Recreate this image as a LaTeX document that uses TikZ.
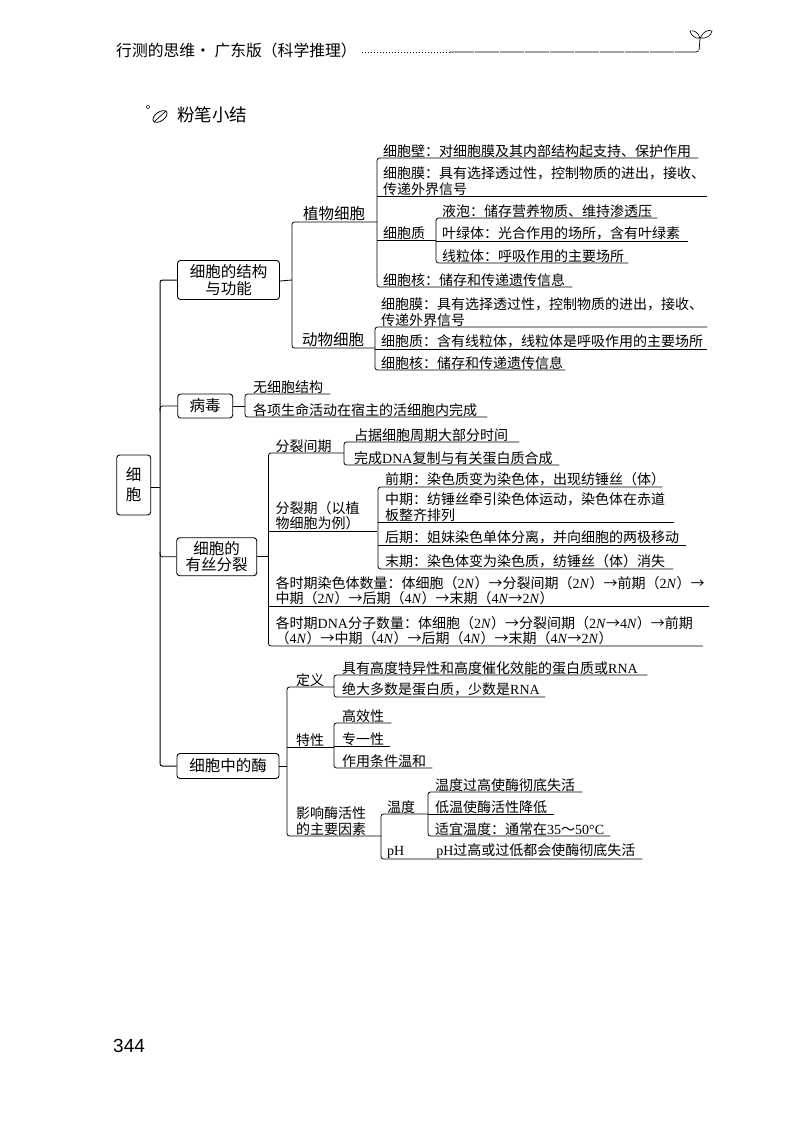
\documentclass[tikz,border=0pt]{standalone}
\usepackage{fontspec}
\setmainfont{Noto Sans CJK SC}
\newfontfamily\latfont{Liberation Serif}
\newfontfamily\pagefont{Liberation Sans}
\usetikzlibrary{positioning}
\newcommand{\nN}[1]{{\latfont #1\textit{N}}}
\newcommand{\lat}[1]{{\latfont #1}}
\tikzstyle{every picture}=[x=1pt,y=-1pt]
\tikzstyle{leaf}=[anchor=south west,inner xsep=6pt,inner ysep=0.5pt,align=left,font=\fontsize{14}{15.5}\selectfont]
\tikzstyle{topic}=[draw=black,line width=0.9pt,rounded corners=3pt,align=center,inner sep=0pt,font=\fontsize{15.5}{16.5}\selectfont]
\tikzstyle{branch}=[leaf,inner xsep=0pt,inner ysep=1.5pt,font=\fontsize{15.5}{15.5}\selectfont]
\tikzstyle{conn}=[line width=0.8pt,rounded corners=2.5pt]
\tikzstyle{under}=[line width=0.8pt]

\begin{document}
\begin{tikzpicture}
  \useasboundingbox (0,0) rectangle (800,1129);

  % page head
  \node [anchor=west,inner sep=0pt,font=\fontsize{15.8}{16}\selectfont] (headtext) at (116,50) {行测的思维· 广东版（科学推理）};
  \node [anchor=west,inner sep=0pt,font=\fontsize{17.5}{18}\selectfont] (chalk) at (177,115) {粉笔小结};
  \node [anchor=west,inner sep=0pt,font=\pagefont\fontsize{19}{20}\selectfont] (pageno) at (113,1046) {344};
  \coordinate (headdash) at (450,52);
  \coordinate (stalk) at (700,38);
  \draw [line width=0.7pt,dash pattern=on 1.5pt off 1.5pt] (headtext.east) ++(5,2) -- (headdash);
  \draw [line width=0.7pt,dash pattern=on 24pt off 1pt,rounded corners=3pt] (headdash) -- (699,52) -- (stalk);
  \draw [line width=0.6pt] (stalk) .. controls (698,32) and (694,30) .. (690,31) .. controls (691,36) and (696,39) .. (stalk);
  \draw [line width=0.6pt] (stalk) .. controls (703,32) and (708,29) .. (712,31) .. controls (711,36) and (706,39) .. (stalk);
  \draw [line width=0.8pt,rotate around={35:(160,116.5)}] (160,116.5) ellipse (8 and 4.5);
  \draw [line width=0.7pt] (154,122) -- (166,111);
  \node [inner sep=0pt,font=\fontsize{13}{13}\selectfont] (chalkdot) at (148,111) {°};

  % root and main topics
  \node [topic,minimum width=34pt,minimum height=60pt,font=\fontsize{15.5}{20}\selectfont] (cell) at (133.7,485) {细\\胞};
  \node [topic,minimum width=102pt,minimum height=39pt] (structure) at (228.5,280) {细胞的结构\\与功能};
  \node [topic,minimum width=55pt,minimum height=24pt] (virus) at (205.2,406) {病毒};
  \node [topic,minimum width=80pt,minimum height=38pt] (mitosis) at (216.7,556.7) {细胞的\\有丝分裂};
  \node [topic,minimum width=102pt,minimum height=25pt] (enzyme) at (228,766) {细胞中的酶};
  \coordinate (trunk) at (160,487);
  \draw [conn,line width=1pt] (structure.west) -| (trunk) |- (enzyme.west);
  \draw [under,line width=1pt] (cell.east |- trunk) -- (trunk);
  \draw [conn] (virus.west) -| ([yshift=-5pt]virus.west -| trunk);
  \draw [conn] (mitosis.west) -| ([yshift=5pt]mitosis.west -| trunk);

  % cell structure
  \node [branch,text width=85pt] (plant) at (292,222) {\hspace{11pt}植物细胞};
  \node [branch,text width=83pt] (animal) at (292,348) {\hspace{10pt}动物细胞};
  \node [leaf,text width=309pt] (pwall) at (377,158) {细胞壁：对细胞膜及其内部结构起支持、保护作用};
  \node [leaf,text width=318pt] (pmemb) at (377,196) {细胞膜：具有选择透过性，控制物质的进出，接收、\\传递外界信号};
  \node [leaf,text width=47pt] (pplasm) at (377,240) {细胞质};
  \node [leaf,text width=183pt] (pnucl) at (377,287) {细胞核：储存和传递遗传信息};
  \node [leaf,text width=209pt] (vacuole) at (436,218) {液泡：储存营养物质、维持渗透压};
  \node [leaf,text width=240pt] (chloro) at (436,241) {叶绿体：光合作用的场所，含有叶绿素};
  \node [leaf,text width=180pt] (mito) at (436,263) {线粒体：呼吸作用的主要场所};
  \node [leaf,text width=320pt] (amemb) at (375,327) {细胞膜：具有选择透过性，控制物质的进出，接收、\\传递外界信号};
  \node [leaf,text width=320pt] (aplasm) at (375,349) {细胞质：含有线粒体，线粒体是呼吸作用的主要场所};
  \node [leaf,text width=178pt] (anucl) at (375,370) {细胞核：储存和传递遗传信息};
  \draw [conn] (plant.south east) -- (plant.south west) -- (animal.south west) -- (animal.south east);
  \draw [under] (structure.east) ++(0,1) -- (structure.east -| plant.south west) ++(0,1);
  \draw [conn] (pwall.south east) -- (pwall.south west) -- (pnucl.south west) -- (pnucl.south east);
  \draw [conn] (vacuole.south east) -- (vacuole.south west) -- (mito.south west) -- (mito.south east);
  \draw [conn] (amemb.south east) -- (amemb.south west) -- (anucl.south west) -- (anucl.south east);
  \foreach \leafname in {pmemb,pplasm,chloro,aplasm}
    \draw [under] (\leafname.south west) -- (\leafname.south east);

  % virus
  \node [leaf,inner xsep=8pt,text width=69pt] (nocell) at (245,394) {无细胞结构};
  \node [leaf,inner xsep=8pt,text width=226pt] (host) at (245,417) {各项生命活动在宿主的活细胞内完成};
  \draw [conn] (nocell.south east) -- (nocell.south west) -- (host.south west) -- (host.south east);
  \draw [under] (virus.east) -- (virus.east -| host.south west);

  % mitosis
  \node [leaf,inner xsep=7pt,text width=61pt] (inter) at (268.5,453) {分裂间期};
  \node [leaf,inner xsep=7pt,text width=94pt] (phase) at (268.5,531) {分裂期（以植\\物细胞为例）};
  \node [leaf,inner xsep=7pt,text width=426pt] (chromcount) at (268.5,606) {各时期染色体数量：体细胞（\nN{2}）→分裂间期（\nN{2}）→前期（\nN{2}）→\\中期（\nN{2}）→后期（\nN{4}）→末期（\nN{4}→\nN{2}）};
  \node [leaf,inner xsep=7pt,text width=420pt] (dnacount) at (268.5,646) {各时期\lat{DNA}分子数量：体细胞（\nN{2}）→分裂间期（\nN{2}→\nN{4}）→前期\\（\nN{4}）→中期（\nN{4}）→后期（\nN{4}）→末期（\nN{4}→\nN{2}）};
  \node [leaf,inner xsep=10pt,text width=155pt] (occupy) at (344,442) {占据细胞周期大部分时间};
  \node [leaf,inner xsep=10pt,text width=195pt] (dnasyn) at (344,465) {完成\lat{DNA}复制与有关蛋白质合成};
  \node [leaf,inner xsep=7pt,text width=270pt] (pro) at (378,487) {前期：染色质变为染色体，出现纺锤丝（体）};
  \node [leaf,inner xsep=7pt,text width=282pt] (meta) at (378,522) {中期：纺锤丝牵引染色体运动，染色体在赤道\\板整齐排列};
  \node [leaf,inner xsep=7pt,text width=294pt] (ana) at (378,545) {后期：姐妹染色单体分离，并向细胞的两极移动};
  \node [leaf,inner xsep=7pt,text width=281pt] (telo) at (378,569) {末期：染色体变为染色质，纺锤丝（体）消失};
  \draw [conn] (inter.south east) -- (inter.south west) -- (dnacount.south west) -- (dnacount.south east);
  \draw [under] (mitosis.east) -- (mitosis.east -| inter.south west);
  \draw [conn] (occupy.south east) -- (occupy.south west) -- (dnasyn.south west) -- (dnasyn.south east);
  \draw [conn] (pro.south east) -- (pro.south west) -- (telo.south west) -- (telo.south east);
  \foreach \leafname in {phase,chromcount,meta,ana}
    \draw [under] (\leafname.south west) -- (\leafname.south east);

  % enzyme
  \node [leaf,inner xsep=9pt,text width=29pt] (define) at (287,687) {定义};
  \node [leaf,inner xsep=9pt,text width=29pt] (trait) at (287,747) {特性};
  \node [leaf,inner xsep=9pt,text width=76pt] (factor) at (287,836) {影响酶活性\\的主要因素};
  \node [leaf,inner xsep=8pt,text width=297pt] (protein) at (334,675) {具有高度特异性和高度催化效能的蛋白质或\lat{RNA}};
  \node [leaf,inner xsep=8pt,text width=195pt] (mostly) at (334,697) {绝大多数是蛋白质，少数是\lat{RNA}};
  \node [leaf,inner xsep=8pt,text width=41pt] (high) at (334,723) {高效性};
  \node [leaf,inner xsep=8pt,text width=40pt] (specific) at (334,746) {专一性};
  \node [leaf,inner xsep=8pt,text width=82pt] (mild) at (334,768) {作用条件温和};
  \node [leaf,text width=35pt] (temp) at (381,814) {温度};
  \node [leaf,text width=249pt] (phval) at (381,859) {\lat{pH}\hspace{32pt}\lat{pH}过高或过低都会使酶彻底失活};
  \node [leaf,inner xsep=7pt,text width=140pt] (toohot) at (428,792) {温度过高使酶彻底失活};
  \node [leaf,inner xsep=7pt,text width=112pt] (toocold) at (428,814) {低温使酶活性降低};
  \node [leaf,inner xsep=7pt,text width=168pt] (suitable) at (428,836) {适宜温度：通常在\lat{35}～\lat{50°C}};
  \draw [conn] (define.south east) -- (define.south west) -- (factor.south west) -- (factor.south east);
  \draw [under] (enzyme.east) -- (enzyme.east -| define.south west);
  \draw [conn] (protein.south east) -- (protein.south west) -- (mostly.south west) -- (mostly.south east);
  \draw [conn] (high.south east) -- (high.south west) -- (mild.south west) -- (mild.south east);
  \draw [conn] (temp.south east) -- (temp.south west) -- (phval.south west) -- (phval.south east);
  \draw [conn] (toohot.south east) -- (toohot.south west) -- (suitable.south west) -- (suitable.south east);
  \foreach \leafname in {trait,specific,toocold}
    \draw [under] (\leafname.south west) -- (\leafname.south east);
\end{tikzpicture}
\end{document}
